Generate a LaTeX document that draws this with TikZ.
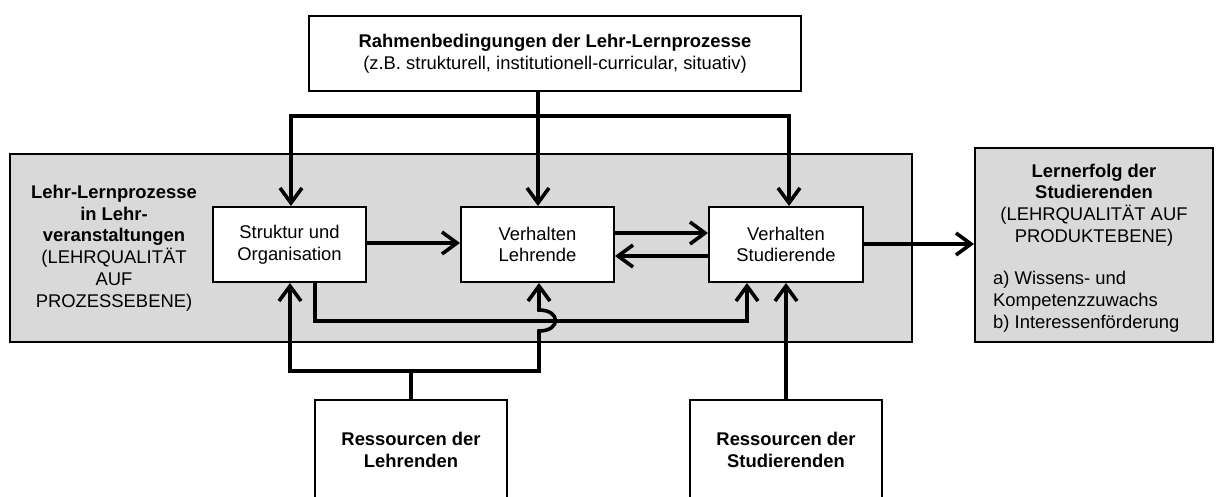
\documentclass[tikz,border=0pt]{standalone}
\usepackage{fontspec}
\setmainfont{Liberation Sans}
\usetikzlibrary{arrows.meta}
\definecolor{boxgray}{RGB}{217,217,217}
\begin{document}
\begin{tikzpicture}[x=1pt,y=-1pt,
  box/.style={draw,line width=2pt,align=center,inner sep=0pt,fill=white},
  conn/.style={line width=3.6pt},
  arr/.style={conn,-{Straight Barb[length=15pt,width=22pt]}},
  txt/.style={font=\fontsize{18.4}{21.8}\selectfont,align=center,inner sep=0pt}
]
\useasboundingbox (0,0) rectangle (1218,496);
\clip (0,0) rectangle (1218,496);

% boxes
\node[box,minimum width=492pt,minimum height=75pt,txt] (rahmen) at (555,53.5)
  {\textbf{Rahmenbedingungen der Lehr-Lernprozesse}\\(z.B. strukturell, institutionell-curricular, situativ)};
\node[box,fill=boxgray,minimum width=902pt,minimum height=188pt] (gray) at (461,248) {};
\node[txt] (graylabel) at (114,248)
  {\textbf{Lehr-Lernprozesse}\\\textbf{in Lehr-}\\\textbf{veranstaltungen}\\(LEHRQUALITÄT\\AUF\\PROZESSEBENE)};
\node[box,txt,draw,line width=2pt,minimum width=153pt,minimum height=75pt] (struk) at (289.5,244.5) {Struktur und\\Organisation};
\node[box,txt,draw,line width=2pt,minimum width=153pt,minimum height=75pt] (lehr) at (537.5,244.5) {Verhalten\\Lehrende};
\node[box,txt,draw,line width=2pt,minimum width=154pt,minimum height=75pt] (stud) at (786,244.5) {Verhalten\\Studierende};
\node[box,fill=boxgray,minimum width=238pt,minimum height=194pt] (lern) at (1094,245) {};
\node[txt] (lerntop) at (1094,205)
  {\textbf{Lernerfolg der}\\\textbf{Studierenden}\\(LEHRQUALITÄT AUF\\PRODUKTEBENE)};
\node[txt,align=left,anchor=west] (lernlist) at (993,301.5)
  {a) Wissens- und\\Kompetenzzuwachs\\b) Interessenförderung};
\node[box,txt,draw,line width=2pt,minimum width=192pt,minimum height=100pt] (resL) at (411,450)
  {\textbf{Ressourcen der}\\\textbf{Lehrenden}};
\node[box,txt,draw,line width=2pt,minimum width=192pt,minimum height=100pt] (resS) at (786,450)
  {\textbf{Ressourcen der}\\\textbf{Studierenden}};

% top distribution
\coordinate (hl) at (291,116);
\coordinate (hm) at (538,116);
\coordinate (hr) at (789,116);
\draw[conn] (rahmen.south -| hm) -- (hm);
\draw[arr] (hm) -- (hl) -- (hl |- struk.north);
\draw[arr] (hm) -- (hr) -- (hr |- stud.north);
\draw[arr] (hm) -- (hm |- lehr.north);

% horizontal arrows
\draw[arr] ([yshift=1.5pt]struk.east) -- ([yshift=1.5pt]lehr.west);
\draw[arr] ([yshift=11.5pt]lehr.east) -- ([yshift=11.5pt]stud.west);
\draw[arr] ([yshift=-11.5pt]stud.west) -- ([yshift=-11.5pt]lehr.east);
\draw[arr] ([yshift=0.5pt]stud.east) -- ([yshift=0.5pt]stud.east -| lern.west);

% loop from Struktur to Studierende
\coordinate (l1) at (315,321);
\coordinate (l2) at (747,321);
\draw[arr] (struk.south -| l1) -- (l1) -- (l2) -- (stud.south -| l2);

% Ressourcen der Lehrenden bracket
\coordinate (bs) at (411,371);
\coordinate (b1) at (290,371);
\coordinate (b2) at (539,371);
\coordinate (h1) at (539,331);
\coordinate (h2) at (539,310);
\draw[conn] (resL.north) -- (bs);
\draw[arr] (bs) -- (b1) -- (struk.south -| b1);
\draw[arr] (bs) -- (b2) -- (h1) .. controls (561,331) and (561,310) .. (h2) -- (lehr.south -| b2);

% Ressourcen der Studierenden
\draw[arr] (resS.north) -- (stud.south -| resS.north);
\end{tikzpicture}
\end{document}
